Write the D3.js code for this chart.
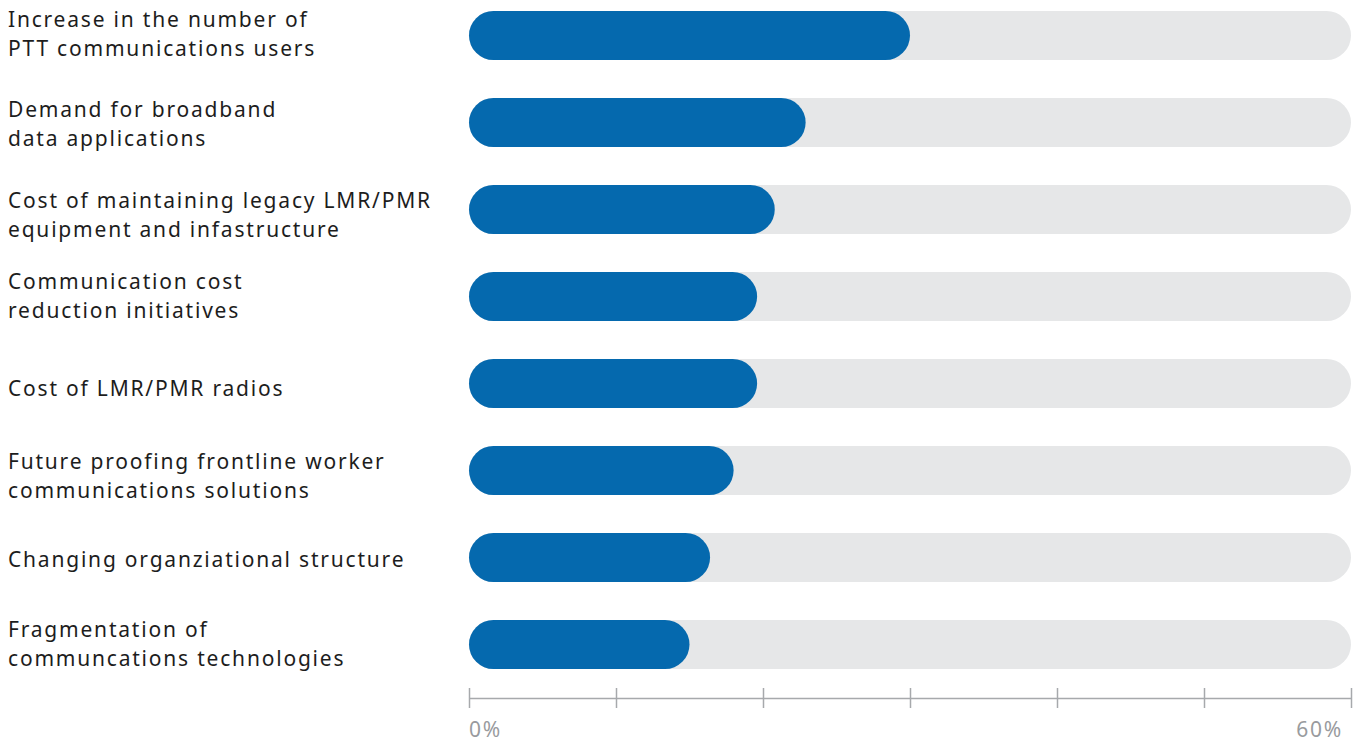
<!DOCTYPE html>
<html>
<head>
<meta charset="utf-8">
<script src="https://cdn.jsdelivr.net/npm/d3@7"></script>
<style>
  body { margin: 0; background: #fff; }
  svg { display: block; }
</style>
</head>
<body>
<svg id="chart" width="1357" height="742"></svg>
<script>
// chart data
var categories = [
  ["Increase in the number of", "PTT communications users"],
  ["Demand for broadband", "data applications"],
  ["Cost of maintaining legacy LMR/PMR", "equipment and infastructure"],
  ["Communication cost", "reduction initiatives"],
  ["Cost of LMR/PMR radios"],
  ["Future proofing frontline worker", "communications solutions"],
  ["Changing organziational structure"],
  ["Fragmentation of", "communcations technologies"]
];
var values = [30, 22.9, 20.8, 19.6, 19.6, 18, 16.4, 15];
var tickValues = [0, 10, 20, 30, 40, 50, 60];
var tickLabels = { 0: "0%", 60: "60%" };

// layout: first-line baseline offset from the bar centre, per label
var labelDy = [-8.5, -5.8, -1.5, -8, 12.5, -1.2, 9, -8];

var svg = d3.select("#chart");
var fontFam = "'Noto Sans', 'Open Sans', sans-serif";
var fontSize = 21;

var x = d3.scaleLinear().domain([0, 60]).range([469, 1351]);
var y = d3.scalePoint().domain(d3.range(categories.length)).range([35.5, 644.5]);

var barH = 49;
var rows = svg.append("g").selectAll("g")
  .data(categories).enter().append("g")
  .attr("transform", (d, i) => "translate(0," + y(i) + ")");

// background track
rows.append("rect")
  .attr("x", x(0)).attr("y", -barH / 2)
  .attr("width", x(60) - x(0)).attr("height", barH)
  .attr("rx", barH / 2)
  .attr("fill", "#e6e7e8");

// value bar
rows.append("rect")
  .attr("x", x(0)).attr("y", -barH / 2)
  .attr("width", (d, i) => x(values[i]) - x(0)).attr("height", barH)
  .attr("rx", barH / 2)
  .attr("fill", "#0569ae");

// letter spacing so the local font takes about the same room as the original
var samples = [["Cost of maintaining legacy LMR/PMR", 406], ["Changing organziational structure", 403],
               ["PTT communications users", 319], ["Increase in the number of", 298]];
var lsList = samples.map(function (s) {
  var p = svg.append("text").attr("font-family", fontFam).attr("font-size", fontSize).text(s[0]);
  var w = p.node().getComputedTextLength();
  p.remove();
  return (s[1] - w) / s[0].length;
});
var ls = Math.max(0, d3.mean(lsList));

// labels
rows.append("text")
  .attr("font-family", fontFam)
  .attr("font-size", fontSize)
  .attr("letter-spacing", ls)
  .attr("fill", "#1d1d1d")
  .each(function (d, i) {
    var t = d3.select(this);
    d.forEach((line, k) => {
      t.append("tspan").attr("x", 8).attr("y", labelDy[i] + k * 29).text(line);
    });
  });

// axis
var axisY = 698;
var axis = svg.append("g").attr("transform", "translate(0," + axisY + ")")
  .call(d3.axisBottom(x).tickValues(tickValues).tickSize(0).tickFormat(""));
axis.select(".domain").attr("stroke", "#a7a9ac").attr("stroke-width", 1.5);
axis.selectAll(".tick line").attr("y1", -10).attr("y2", 10).attr("stroke", "#a7a9ac").attr("stroke-width", 1.5);

svg.append("g").selectAll("text")
  .data(tickValues.filter(v => tickLabels[v] !== undefined)).enter().append("text")
  .attr("x", d => d === 60 ? x(d) - 8 : x(d))
  .attr("y", 737)
  .attr("text-anchor", d => d === 60 ? "end" : "start")
  .attr("font-family", fontFam)
  .attr("font-size", fontSize)
  .attr("letter-spacing", ls)
  .attr("fill", "#999b9e")
  .text(d => tickLabels[d]);
</script>
</body>
</html>
